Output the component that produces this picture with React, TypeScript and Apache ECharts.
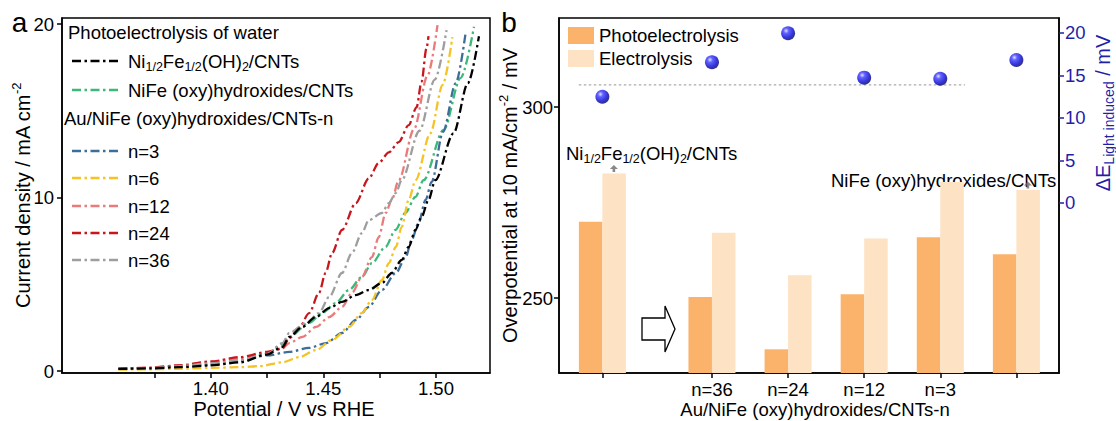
import React, { useEffect, useRef } from 'react';
import * as echarts from 'echarts';

const FONT = '"Liberation Sans", Arial, Helvetica, sans-serif';
const BLUE = '#1f1fa8';

// ---------- panel a ----------
const potentialTicks = [1.375, 1.4, 1.425, 1.45, 1.475, 1.5];
const potentialLabels = [1.4, 1.45, 1.5];
const currentTicks = [0, 10, 20];

const curveNiFeOH = [[1.359,0.12],[1.373,0.15],[1.386,0.22],[1.400,0.32],[1.413,0.5],[1.425,0.95],[1.4318,1.38],[1.4349,1.96],[1.4406,2.54],[1.4467,3.11],[1.4526,3.63],[1.4583,3.98],[1.4644,4.38],[1.4702,4.67],[1.476,5.07],[1.4804,5.65],[1.4848,6.4],[1.4879,7.15],[1.4909,8.13],[1.4936,8.88],[1.4967,9.86],[1.4997,11.0],[1.5078,13.7],[1.5142,16.6],[1.5191,19.3]];
const curveNiFeOxy = [[1.359,0.12],[1.373,0.16],[1.386,0.25],[1.400,0.36],[1.413,0.56],[1.425,1.0],[1.4318,1.5],[1.4349,1.96],[1.4437,2.77],[1.4495,3.34],[1.4555,3.92],[1.4614,4.67],[1.4671,5.42],[1.4716,6.22],[1.4776,7.15],[1.482,8.13],[1.4864,9.11],[1.4909,10.03],[1.4945,11.0],[1.5034,13.9],[1.511,16.9],[1.5169,19.85]];
const curveN3 = [[1.359,0.12],[1.373,0.16],[1.386,0.24],[1.400,0.36],[1.413,0.58],[1.425,0.9],[1.4349,1.1],[1.4437,1.33],[1.4512,1.61],[1.4583,2.19],[1.4645,2.94],[1.4702,3.69],[1.476,4.67],[1.4822,5.65],[1.4866,6.57],[1.4892,7.55],[1.4923,8.53],[1.4954,9.86],[1.4981,10.9],[1.5032,13.8],[1.5088,16.6],[1.5131,19.42]];
const curveN6 = [[1.359,0.08],[1.373,0.1],[1.386,0.13],[1.400,0.18],[1.413,0.22],[1.4216,0.28],[1.4318,0.5],[1.4393,0.8],[1.4468,1.21],[1.4539,1.79],[1.4614,2.54],[1.4671,3.34],[1.4716,4.09],[1.476,5.24],[1.4791,6.22],[1.4822,7.15],[1.4848,8.3],[1.4879,9.86],[1.491,11.0],[1.4975,13.7],[1.503,16.5],[1.5073,19.25]];
const curveN12 = [[1.359,0.12],[1.373,0.2],[1.386,0.33],[1.400,0.52],[1.413,0.72],[1.425,1.0],[1.4318,1.3],[1.4349,1.61],[1.4406,1.96],[1.4468,2.54],[1.4526,3.11],[1.4583,3.69],[1.4627,4.5],[1.4671,5.42],[1.4716,6.57],[1.4746,7.72],[1.4777,9.11],[1.4804,9.86],[1.4835,11.0],[1.4903,13.95],[1.4962,17.0],[1.5007,19.94]];
const curveN24 = [[1.359,0.12],[1.373,0.18],[1.386,0.32],[1.400,0.55],[1.413,0.8],[1.425,1.1],[1.4318,1.3],[1.4349,1.9],[1.4393,2.5],[1.4437,3.34],[1.4481,4.5],[1.451,5.65],[1.4539,6.8],[1.4583,8.13],[1.4644,9.68],[1.4702,11.1],[1.4746,12.0],[1.4791,12.6],[1.4835,13.2],[1.4879,14.18],[1.4914,15.2],[1.4936,16.66],[1.4958,18.6],[1.4967,19.3]];
const curveN36 = [[1.359,0.12],[1.373,0.17],[1.386,0.28],[1.400,0.44],[1.413,0.62],[1.425,0.98],[1.4318,1.6],[1.4349,2.19],[1.4424,2.77],[1.4481,3.34],[1.4526,4.27],[1.4583,5.65],[1.4627,6.8],[1.4671,7.95],[1.4702,8.7],[1.476,9.11],[1.4791,9.68],[1.4822,10.26],[1.4848,11.0],[1.4927,13.85],[1.4995,16.8],[1.5047,19.65]];

const curveLabels = ['{n|Ni}{s|1/2}{n|Fe}{s|1/2}{n|(OH)}{s|2}{n|/CNTs}', 'NiFe (oxy)hydroxides/CNTs', 'n=3', 'n=6', 'n=12', 'n=24', 'n=36'];
const curveNames = ['Ni1/2Fe1/2(OH)2/CNTs', 'NiFe (oxy)hydroxides/CNTs', 'n=3', 'n=6', 'n=12', 'n=24', 'n=36'];
const curveData = [curveNiFeOH, curveNiFeOxy, curveN3, curveN6, curveN12, curveN24, curveN36];
const curveColors = ['#000000', '#3cb878', '#3d6e99', '#f5c324', '#ea7b7b', '#c8161d', '#9e9e9e'];

// ---------- panel b ----------
const barPositions = [0, 1.44, 2.44, 3.44, 4.44, 5.44];
const barTickLabels = ['', 'n=36', 'n=24', 'n=12', 'n=3', ''];
const photoOverpotential = [270.0, 250.3, 236.6, 251.0, 265.9, 261.5];
const electroOverpotential = [282.6, 267.1, 256.0, 265.6, 280.4, 278.3];
const lightInduced = [12.5, 16.55, 19.96, 14.74, 14.62, 16.82];
const errorArrowIndex = [0, 5];
const refLineX = [-0.31, 4.765];
const refLineY = 13.9;
const overpotentialTicks = [250, 300];
const lightTicks = [0, 5, 10, 15, 20];

const PHOTO = '#fbb36b';
const ELECTRO = '#fde2c4';

const richG = {
  n: { fontSize: 18.5, fontFamily: FONT, lineHeight: 24, fill: '#000' },
  s: { fontSize: 12.5, fontFamily: FONT, lineHeight: 12, verticalAlign: 'bottom', fill: '#000' },
};

export default function App() {
  const ref = useRef<HTMLDivElement>(null);
  useEffect(() => {
    if (!ref.current) return;
    const chart = echarts.init(ref.current, undefined, { renderer: 'svg' });

    const legendY = [61, 90, 151, 178, 206, 233, 260];
    const graphic: any[] = [
      { type: 'text', x: 19.5, y: 22, style: { text: 'a', fontSize: 28, fontFamily: FONT, fill: '#000', align: 'center', verticalAlign: 'middle' } },
      { type: 'text', x: 509, y: 22, style: { text: 'b', fontSize: 28, fontFamily: FONT, fill: '#000', align: 'center', verticalAlign: 'middle' } },
      { type: 'text', x: 68, y: 32, style: { text: 'Photoelectrolysis of water', fontSize: 18.5, fontFamily: FONT, fill: '#000', verticalAlign: 'middle' } },
      { type: 'text', x: 64, y: 118, style: { text: 'Au/NiFe (oxy)hydroxides/CNTs-n', fontSize: 18.5, fontFamily: FONT, fill: '#000', verticalAlign: 'middle' } },
      { type: 'text', x: 566, y: 153, style: { text: curveLabels[0], rich: richG, verticalAlign: 'middle', fontFamily: FONT } },
      { type: 'text', x: 831, y: 180, style: { text: 'NiFe (oxy)hydroxides/CNTs', fontSize: 18.5, fontFamily: FONT, fill: '#000', verticalAlign: 'middle' } },
      {
        type: 'polygon',
        shape: { points: [[642, 318], [665, 318], [665, 306], [675, 329], [665, 352], [665, 340], [642, 340]] },
        style: { fill: '#fff', stroke: '#000', lineWidth: 1.3 },
      },
      {
        type: 'text', x: 1103, y: 113, rotation: Math.PI / 2,
        style: {
          text: '{n|ΔE}{s|Light induced}{n| / mV}', align: 'center', verticalAlign: 'middle', fontFamily: FONT,
          rich: {
            n: { fontSize: 20, fontFamily: FONT, lineHeight: 26, fill: BLUE },
            s: { fontSize: 14, fontFamily: FONT, lineHeight: 14, verticalAlign: 'bottom', fill: BLUE },
          },
        },
      },
    ];
    curveData.forEach((_, i) => {
      graphic.push({
        type: 'line',
        shape: { x1: 72, y1: legendY[i], x2: 120, y2: legendY[i] },
        style: { stroke: curveColors[i], lineWidth: 2.3, lineDash: [9, 3.5, 2.5, 3.5] },
      });
      graphic.push({
        type: 'text', x: 128, y: legendY[i],
        style: i === 0
          ? { text: curveLabels[i], rich: richG, verticalAlign: 'middle', fontFamily: FONT }
          : { text: curveLabels[i], fontSize: 18.5, fontFamily: FONT, fill: '#000', verticalAlign: 'middle' },
      });
    });

    const axisLine = { show: true, onZero: false, lineStyle: { color: '#000', width: 1.5 } };
    const tickStyle = { color: '#000', width: 1.5 };
    const labelBase = { fontSize: 18.5, fontFamily: FONT, color: '#000' };

    const lineSeries = curveData.map((d, i) => ({
      type: 'line',
      name: curveNames[i],
      xAxisIndex: 0,
      yAxisIndex: 0,
      data: d,
      showSymbol: false,
      smooth: 0.3,
      smoothMonotone: 'x',
      lineStyle: { color: curveColors[i], width: 2.3, type: [9, 3.5, 2.5, 3.5] },
      itemStyle: { color: curveColors[i] },
      z: i === 0 ? 5 : 3,
    }));

    const labelFor = (v: number) => {
      const i = barPositions.findIndex((p) => Math.abs(p - v) < 1e-6);
      return i >= 0 ? barTickLabels[i] : '';
    };

    const option: any = {
      animation: false,
      backgroundColor: '#fff',
      textStyle: { fontFamily: FONT },
      grid: [
        { left: 62, top: 18, width: 428, height: 355, show: true, borderColor: '#000', borderWidth: 1.5, containLabel: false, outerBoundsMode: 'none' },
        { left: 559, top: 18, width: 500, height: 355, show: true, borderColor: '#000', borderWidth: 1.5, containLabel: false, outerBoundsMode: 'none' },
      ],
      legend: {
        data: ['Photoelectrolysis', 'Electrolysis'],
        orient: 'vertical',
        left: 568,
        top: 25,
        padding: 0,
        itemWidth: 26,
        itemHeight: 17,
        itemGap: 2,
        icon: 'rect',
        textStyle: { fontSize: 18.5, fontFamily: FONT, color: '#000', lineHeight: 21 },
        selectedMode: false,
      },
      xAxis: [
        {
          gridIndex: 0, type: 'value', min: 1.334, max: 1.524,
          axisLine, splitLine: { show: false },
          axisTick: { show: true, customValues: potentialTicks, length: 5, lineStyle: tickStyle },
          axisLabel: { ...labelBase, customValues: potentialLabels, margin: 6, lineHeight: 18, formatter: (v: number) => v.toFixed(2) },
          name: 'Potential / V vs RHE', nameLocation: 'middle', nameGap: 26, nameMoveOverlap: false,
          nameTextStyle: { fontSize: 20, fontFamily: FONT, color: '#000', lineHeight: 20, padding: [0, 0, 0, 16] },
        },
        {
          gridIndex: 1, type: 'value', min: -0.57, max: 6.0,
          axisLine, splitLine: { show: false },
          axisTick: { show: true, customValues: barPositions, length: 5, lineStyle: tickStyle },
          axisLabel: { ...labelBase, customValues: barPositions.slice(1, 5), margin: 7, lineHeight: 18, formatter: labelFor },
          name: 'Au/NiFe (oxy)hydroxides/CNTs-n', nameLocation: 'middle', nameGap: 27, nameMoveOverlap: false,
          nameTextStyle: { fontSize: 18.5, fontFamily: FONT, color: '#000', lineHeight: 18, padding: [0, 0, 0, 12] },
        },
      ],
      yAxis: [
        {
          gridIndex: 0, type: 'value', min: -0.115, max: 20.35,
          axisLine, splitLine: { show: false },
          axisTick: { show: true, customValues: currentTicks, length: 5, lineStyle: tickStyle },
          axisLabel: { ...labelBase, customValues: currentTicks, margin: 8 },
          name: '{n|Current density / mA cm}{p|-2}', nameLocation: 'middle', nameGap: 26, nameRotate: 90, nameMoveOverlap: false,
          nameTextStyle: {
            rich: {
              n: { fontSize: 20, fontFamily: FONT, color: '#000', lineHeight: 26 },
              p: { fontSize: 13, fontFamily: FONT, color: '#000', lineHeight: 13, verticalAlign: 'top' },
            },
          },
        },
        {
          gridIndex: 1, type: 'value', position: 'left', min: 230.4, max: 323.3,
          axisLine, splitLine: { show: false },
          axisTick: { show: true, customValues: overpotentialTicks, length: 5, lineStyle: tickStyle },
          axisLabel: { ...labelBase, customValues: overpotentialTicks, margin: 6 },
          name: '{n|Overpotential at 10 mA/cm}{p|-2}{n| / mV}', nameLocation: 'middle', nameGap: 36, nameRotate: 90, nameMoveOverlap: false,
          nameTextStyle: {
            rich: {
              n: { fontSize: 20, fontFamily: FONT, color: '#000', lineHeight: 26 },
              p: { fontSize: 13, fontFamily: FONT, color: '#000', lineHeight: 13, verticalAlign: 'top' },
            },
          },
        },
        {
          gridIndex: 1, type: 'value', position: 'right', min: -20, max: 21.76,
          axisLine, splitLine: { show: false },
          axisTick: { show: true, customValues: lightTicks, length: 5, lineStyle: { color: BLUE, width: 1.5 } },
          axisLabel: { ...labelBase, color: BLUE, customValues: lightTicks, margin: 6 },
        },
      ],
      series: [
        ...lineSeries,
        {
          type: 'bar', name: 'Photoelectrolysis', xAxisIndex: 1, yAxisIndex: 1,
          data: barPositions.map((x, i) => [x, photoOverpotential[i]]),
          barWidth: 23.5, barGap: '0%', clip: true,
          itemStyle: { color: PHOTO },
        },
        {
          type: 'bar', name: 'Electrolysis', xAxisIndex: 1, yAxisIndex: 1,
          data: barPositions.map((x, i) => [x, electroOverpotential[i]]),
          barWidth: 23.5, barGap: '0%', clip: true,
          itemStyle: { color: ELECTRO },
        },
        {
          type: 'scatter', name: 'error', xAxisIndex: 1, yAxisIndex: 1,
          data: errorArrowIndex.map((i) => [barPositions[i], electroOverpotential[i]]),
          symbol: 'path://M4,0 L8,4.5 L5.3,4.5 L5.3,8 L2.7,8 L2.7,4.5 L0,4.5 Z',
          symbolSize: [8, 7], symbolOffset: [11.5, -5],
          itemStyle: { color: '#6a6a6a' }, silent: true, z: 4,
        },
        {
          type: 'line', name: 'ref', xAxisIndex: 1, yAxisIndex: 2,
          data: refLineX.map((x) => [x, refLineY]),
          showSymbol: false, silent: true,
          lineStyle: { color: '#aaaaaa', width: 1.3, type: [2.5, 2.5] },
        },
        {
          type: 'scatter', name: 'ΔE', xAxisIndex: 1, yAxisIndex: 2,
          data: barPositions.map((x, i) => [x, lightInduced[i]]),
          symbolSize: 14, z: 6,
          itemStyle: {
            color: new echarts.graphic.RadialGradient(0.36, 0.32, 0.68, [
              { offset: 0, color: '#d8d8ff' },
              { offset: 0.28, color: '#3a3aff' },
              { offset: 0.75, color: '#0000cc' },
              { offset: 1, color: '#00006a' },
            ]),
          },
        },
      ],
      graphic,
    };
    chart.setOption(option);
    return () => chart.dispose();
  }, []);
  return (
    <div
      ref={ref}
      style={{ position: 'fixed', left: 0, top: 0, width: 1116, height: 421, background: '#fff' }}
    />
  );
}
